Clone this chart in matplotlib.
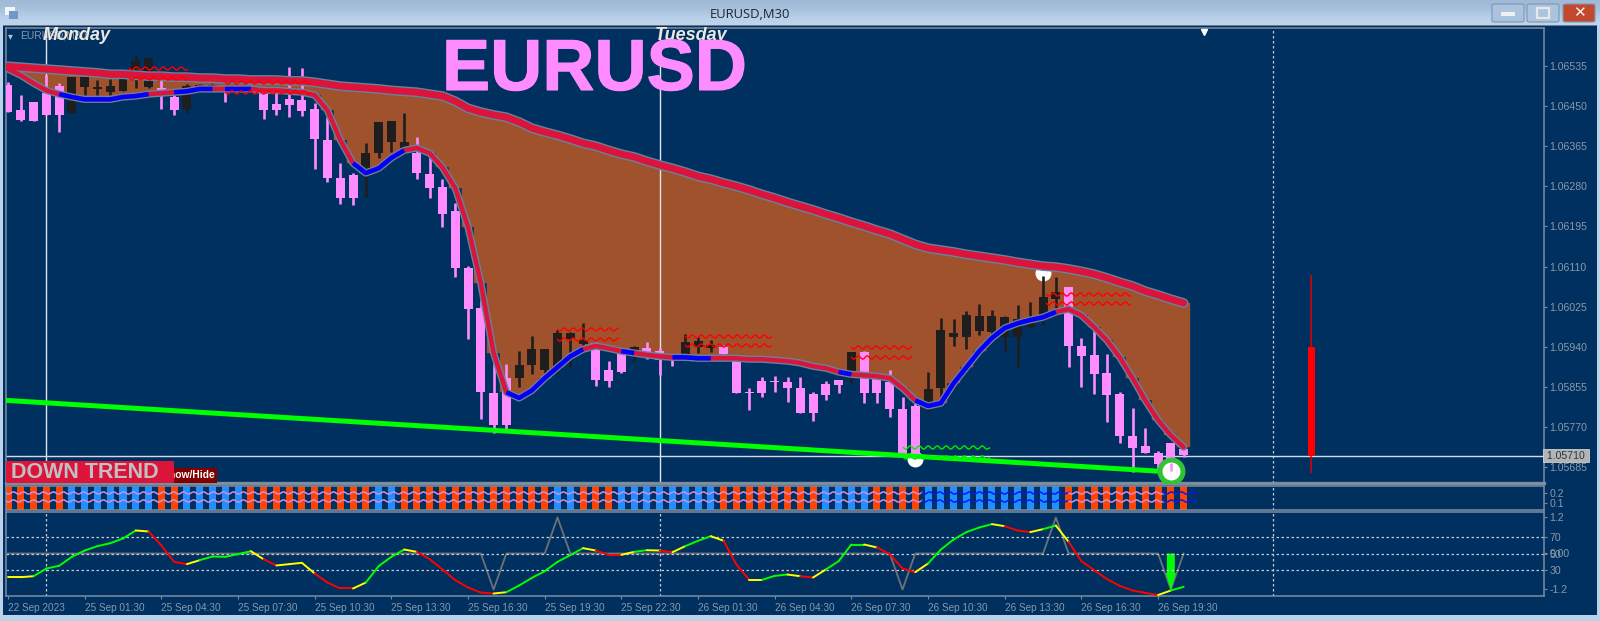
import matplotlib
matplotlib.use("Agg")
import matplotlib.pyplot as plt
import matplotlib.patheffects as pe
from matplotlib.patches import Rectangle, FancyBboxPatch

W, H = 1600, 621
plt.rcParams['font.family'] = ['Liberation Sans', 'DejaVu Sans']

# prices are kept in points (1 point = 0.00001)
candle_high = [106500, 106473, 106458, 106515, 106498, 106511, 106511, 106505, 106507, 106507,
               106558, 106551, 106505, 106473, 106496, 106496, 106496, 106488, 106492, 106492,
               106477, 106477, 106532, 106530, 106456, 106426, 106329, 106308, 106371, 106416,
               106418, 106435, 106384, 106342, 106295, 106244, 106111, 106039, 105906, 105904,
               105931, 105963, 105935, 105975, 105971, 105990, 105950, 105910, 105929, 105942,
               105950, 105937, 105923, 105967, 105961, 105954, 105944, 105918, 105853, 105876,
               105878, 105876, 105876, 105844, 105868, 105870, 105929, 105931, 105878, 105891,
               105834, 105821, 105887, 106001, 105999, 106016, 106031, 106018, 106005, 106028,
               106035, 106090, 106088, 106067, 105959, 105975, 105925, 105844, 105810, 105768,
               105719, 105736, 105734]
candle_low = [106437, 106418, 106418, 106431, 106395, 106435, 106473, 106473, 106473, 106481,
              106488, 106488, 106443, 106431, 106435, 106486, 106488, 106458, 106481, 106479,
              106422, 106431, 106426, 106428, 106316, 106289, 106242, 106240, 106257, 106340,
              106352, 106356, 106295, 106255, 106194, 106088, 105956, 105787, 105757, 105762,
              105855, 105882, 105884, 105884, 105897, 105942, 105857, 105855, 105884, 105910,
              105914, 105880, 105899, 105923, 105927, 105929, 105925, 105842, 105806, 105834,
              105844, 105823, 105800, 105783, 105827, 105842, 105863, 105821, 105821, 105791,
              105709, 105703, 105802, 105834, 105942, 105935, 105965, 105963, 105931, 105897,
              105980, 105986, 106014, 105897, 105855, 105840, 105781, 105736, 105675, 105715,
              105681, 105673, 105707]
candle_open = [106494, 106441, 106458, 106477, 106492, 106435, 106490, 106486, 106479, 106481,
               106526, 106490, 106488, 106469, 106443, 106488, 106490, 106488, 106483, 106483,
               106477, 106454, 106464, 106462, 106443, 106378, 106297, 106304, 106318, 106350,
               106373, 106361, 106350, 106306, 106278, 106227, 106107, 106022, 105842, 105874,
               105874, 105901, 105891, 105891, 105956, 105946, 105948, 105891, 105929, 105933,
               105937, 105931, 105923, 105923, 105940, 105937, 105940, 105914, 105844, 105868,
               105868, 105866, 105853, 105840, 105861, 105870, 105874, 105929, 105874, 105866,
               105808, 105815, 105823, 105853, 105961, 105961, 105973, 105971, 105961, 105961,
               105982, 106007, 106041, 106067, 105942, 105923, 105884, 105840, 105751, 105730,
               105715, 105736, 105724]
candle_close = [106437, 106420, 106418, 106431, 106431, 106511, 106511, 106490, 106492, 106507,
                106545, 106551, 106483, 106441, 106492, 106494, 106494, 106479, 106488, 106488,
                106441, 106441, 106452, 106439, 106380, 106297, 106255, 106255, 106350, 106416,
                106418, 106373, 106308, 106276, 106221, 106107, 106020, 105844, 105774, 105774,
                105901, 105935, 105935, 105969, 105969, 105954, 105870, 105868, 105887, 105940,
                105929, 105912, 105916, 105950, 105952, 105944, 105925, 105842, 105842, 105842,
                105866, 105853, 105800, 105800, 105838, 105859, 105929, 105842, 105842, 105808,
                105711, 105707, 105851, 105975, 105969, 106007, 106005, 106005, 106003, 105999,
                105997, 106045, 106056, 105942, 105920, 105882, 105838, 105751, 105726, 105715,
                105692, 105694, 105711]

slow_ma = [106534, 106532, 106530, 106528, 106526, 106524, 106522, 106520, 106517, 106517,
           106515, 106513, 106513, 106511, 106511, 106509, 106509, 106507, 106507, 106505,
           106505, 106505, 106503, 106503, 106500, 106496, 106492, 106490, 106488, 106486,
           106483, 106481, 106479, 106475, 106471, 106460, 106445, 106437, 106431, 106426,
           106416, 106403, 106395, 106388, 106380, 106371, 106365, 106356, 106348, 106342,
           106333, 106325, 106318, 106310, 106301, 106295, 106287, 106280, 106272, 106263,
           106255, 106246, 106238, 106230, 106221, 106213, 106204, 106196, 106187, 106179,
           106168, 106157, 106149, 106145, 106141, 106136, 106132, 106128, 106124, 106119,
           106115, 106111, 106109, 106105, 106100, 106094, 106086, 106077, 106069, 106058,
           106050, 106041, 106033]
fast_ma = [106528, 106515, 106498, 106483, 106475, 106469, 106464, 106464, 106464, 106469,
           106471, 106475, 106477, 106479, 106481, 106486, 106486, 106486, 106486, 106486,
           106483, 106483, 106481, 106479, 106473, 106441, 106378, 106329, 106308, 106318,
           106340, 106356, 106361, 106350, 106320, 106276, 106194, 106075, 105927, 105844,
           105832, 105848, 105874, 105897, 105920, 105935, 105942, 105937, 105931, 105927,
           105923, 105920, 105918, 105918, 105916, 105916, 105916, 105916, 105914, 105914,
           105912, 105910, 105906, 105899, 105895, 105887, 105882, 105880, 105878, 105874,
           105853, 105827, 105815, 105821, 105863, 105897, 105931, 105959, 105980, 105990,
           105997, 106003, 106014, 106020, 106007, 105982, 105954, 105918, 105874, 105827,
           105785, 105753, 105728]
fast_blue_spans = [(4, 11), (13, 16), (17, 19), (27, 31), (39, 45), (48, 49), (52, 55), (65, 66), (71, 82)]

trend_x = [-0.2, 90]
trend_y = [105827, 105677]

red_candle_x = 102
red_candle = [106092, 105940, 105709, 105673]  # high, open, close, low
last_price = 105710

zigzag_red = [(9.5, 14.0, 106530, 106509), (17.0, 23.6, 106500, 106479), (43.0, 47.7, 105978, 105957),
              (53.0, 59.7, 105963, 105944), (66.0, 70.7, 105940, 105918), (81.2, 87.8, 106053, 106033)]
zigzag_green = [(70.0, 76.8, 105728, 105707)]

white_dot_x = [81.0, 71.0]
white_dot_y = [106096, 105703]
ring_x = 91
ring_y = 105677

day_lines = [3, 51]
future_line = 99

price_ticks = [106535, 106450, 106365, 106280, 106195, 106110, 106025, 105940, 105855, 105770, 105685]

bar_runs = [('o', 5), ('b', 7), ('o', 2), ('b', 5), ('o', 10), ('b', 2), ('o', 12), ('b', 2), ('o', 3),
            ('b', 8), ('o', 8), ('b', 4), ('o', 4), ('b', 11), ('o', 10)]
wave_levels = [0.2, 0.125]
wave_spans = [(-0.15, 71.5, '#d58ae6'), (71.5, 83.0, '#0a18f0'), (83.0, 90.5, '#d58ae6'), (90.5, 93.0, '#0a18f0')]

rsi = [21.3, 21.3, 22.5, 31.8, 35.1, 46.0, 53.6, 58.9, 62.5, 68.2,
       77.9, 76.7, 59.7, 39.9, 37.1, 41.9, 46.4, 46.0, 49.2, 52.8,
       43.1, 35.5, 37.1, 38.7, 25.8, 14.8, 7.6, 7.6, 14.8, 34.6,
       46.0, 54.8, 52.0, 43.1, 30.6, 17.7, 8.8, 2.7, 1.5, 3.1,
       11.2, 20.5, 28.6, 39.9, 48.0, 56.5, 53.6, 48.4, 48.4, 52.0,
       54.0, 53.6, 51.6, 58.9, 65.4, 71.0, 65.4, 36.7, 18.1, 18.1,
       22.9, 24.5, 22.5, 20.9, 30.6, 40.7, 60.9, 60.9, 57.3, 49.2,
       31.8, 27.4, 37.9, 54.8, 67.0, 75.9, 81.5, 85.6, 83.1, 77.9,
       75.9, 79.5, 83.9, 64.1, 40.7, 29.8, 18.9, 10.8, 5.2, 2.3,
       -0.3, 5.2, 9.6]
rsi_runs = [('y', 2), ('g', 8), ('y', 1), ('r', 3), ('y', 1), ('g', 4), ('y', 1), ('r', 1), ('y', 3), ('r', 3),
            ('y', 1), ('g', 3), ('y', 1), ('r', 6), ('y', 1), ('g', 6), ('y', 1), ('r', 2), ('y', 1), ('g', 1),
            ('y', 1), ('r', 1), ('y', 1), ('g', 2), ('y', 1), ('r', 2), ('y', 1), ('g', 2), ('y', 1), ('r', 1),
            ('y', 1), ('g', 3), ('y', 1), ('r', 3), ('y', 1), ('g', 5), ('y', 1), ('r', 2), ('y', 1), ('g', 1),
            ('y', 1), ('r', 7), ('y', 1), ('g', 1)]
momentum_x = [0, 37, 38, 39, 42, 43, 44, 69, 70, 71, 81, 82, 83, 90, 91, 92]
momentum_y = [0, 0, -1.2, 0, 0, 1.2, 0, 0, -1.2, 0, 0, 1.2, 0, 0, -1.2, 0]
signal_x = 91

time_ticks = [0, 6, 12, 18, 24, 30, 36, 42, 48, 54, 60, 66, 72, 78, 84, 90]
time_labels = ['22 Sep 2023', '25 Sep 01:30', '25 Sep 04:30', '25 Sep 07:30', '25 Sep 10:30', '25 Sep 13:30',
               '25 Sep 16:30', '25 Sep 19:30', '25 Sep 22:30', '26 Sep 01:30', '26 Sep 04:30', '26 Sep 07:30',
               '26 Sep 10:30', '26 Sep 13:30', '26 Sep 16:30', '26 Sep 19:30']

NAVY = '#003060'
FRAME = '#7d8da0'
LABEL = '#8a98aa'
DOT = '#c3ccd6'
PINK = '#ff8cff'
BLACK = '#1e1e1e'
CRIMSON = '#dc143c'
OUTLINE = '#64849e'
palette = {'g': '#00ff00', 'y': '#ffff00', 'r': '#ff0000', 'o': '#ff4500', 'b': '#1e90ff'}


def px_axes(left, top, right, bottom):
    a = fig.add_axes([left / W, 1 - bottom / H, (right - left) / W, (bottom - top) / H])
    a.set_zorder(2)
    return a


def box(left, top, right, bottom, color, z=1, **kw):
    fig.add_artist(Rectangle((left / W, 1 - bottom / H), (right - left) / W, (bottom - top) / H,
                             transform=fig.transFigure, facecolor=color, edgecolor='none', zorder=z, **kw))


def style(ax):
    ax.set_facecolor(NAVY)
    ax.set_xlim(-0.157, 120.2)
    for s in ax.spines.values():
        s.set_color(FRAME)
        s.set_linewidth(1.1)
    ax.yaxis.tick_right()
    ax.tick_params(axis='y', colors=FRAME, labelcolor=LABEL, length=2, width=0.8, labelsize=7.6, pad=2)
    ax.set_xticks([])


fig = plt.figure(figsize=(W / 100, H / 100), dpi=100, facecolor='#bcd2ea')

# window title bar, drawn as a vertical gradient
title_ax = fig.add_axes([0, 1 - 26 / H, 1, 26 / H])
title_ax.imshow([[0.0], [1.0]], aspect='auto', interpolation='bicubic', extent=(0, W, 26, 0),
                cmap=matplotlib.colors.LinearSegmentedColormap.from_list('t', ['#9fb9d6', '#bfd6ee']))
title_ax.set_axis_off()
title_ax.set_zorder(0)
box(3, 25, 1597, 615, NAVY)
box(3, 25, 1597, 26, '#6b7b8b', z=1.5)
fig.text(750 / W, 1 - 14 / H, 'EURUSD,M30', color='#1c2630', fontsize=9.4, ha='center', va='center',
         family=['Open Sans', 'DejaVu Sans'], zorder=5)

# small window icon and the three caption buttons
box(5, 7, 15, 15, '#ffffff', z=3, alpha=0.85)
box(9, 11, 18, 19, '#6f97c8', z=3)
for left, right, color in [(1492, 1524, '#aac3de'), (1527, 1559, '#aac3de'), (1563, 1595, '#c2482e')]:
    fig.add_artist(FancyBboxPatch((left / W, 1 - 22 / H), (right - left) / W, 18 / H,
                                  boxstyle='round,pad=0,rounding_size=0.002', transform=fig.transFigure,
                                  facecolor=color, edgecolor='#8097b3', linewidth=0.8, zorder=3))
box(1501, 12, 1515, 16, '#f0f0f0', z=4)
fig.add_artist(Rectangle((1537 / W, 1 - 18 / H), 12 / W, 10 / H, transform=fig.transFigure, facecolor='none',
                         edgecolor='#e8e8e8', linewidth=1.6, zorder=4))
fig.text(1579 / W, 1 - 13 / H, '\u2715', color='#f5f5f5', fontsize=11, ha='center', va='center',
         family='DejaVu Sans', fontweight='bold', zorder=5)

# main price panel
ax = px_axes(6, 28, 1544, 483)
style(ax)
ax.spines['bottom'].set_linewidth(2.4)
ax.set_ylim(105652, 106615)
ax.set_yticks(price_ticks)
ax.set_yticklabels([f'{p / 100000:.5f}' for p in price_ticks])

idx = list(range(len(candle_open)))
ax.bar(idx, [s - f for s, f in zip(slow_ma, fast_ma)], bottom=fast_ma, width=1.0, color='#a0522d',
       edgecolor='#a0522d', linewidth=0.3, zorder=1)

for d in day_lines:
    ax.axvline(d, color='#dfe5ea', linewidth=1.0, zorder=2)
ax.axvline(future_line, color=DOT, linewidth=0.9, linestyle=(0, (2, 2)), zorder=2)
ax.axhline(last_price, color='#d5dce6', linewidth=1.0, zorder=2)

ax.plot(white_dot_x, white_dot_y, linestyle='none', marker='o', markersize=11.5, color='white',
        markeredgecolor='none', zorder=2.5)

candle_colors = [PINK if c < o else BLACK for o, c in zip(candle_open, candle_close)]
ax.vlines(idx, candle_low, candle_high, colors=candle_colors, linewidth=1.9, zorder=3)
ax.bar(idx, [abs(o - c) for o, c in zip(candle_open, candle_close)],
       bottom=[min(o, c) for o, c in zip(candle_open, candle_close)], width=0.7, color=candle_colors, zorder=3)

ax.vlines(red_candle_x, red_candle[3], red_candle[0], colors='#e00000', linewidth=1.1, zorder=3)
ax.bar(red_candle_x, red_candle[1] - red_candle[2], bottom=red_candle[2], width=0.55, color='#ff0000', zorder=3)

# moving averages with their grey outline
ax.plot(idx, slow_ma, color=OUTLINE, linewidth=7.0, zorder=4, solid_capstyle='round')
ax.plot(idx, slow_ma, color=CRIMSON, linewidth=5.0, zorder=4.1, solid_capstyle='round')
ax.plot(idx, fast_ma, color=OUTLINE, linewidth=5.2, zorder=4, solid_capstyle='round')
ax.plot(idx, fast_ma, color=CRIMSON, linewidth=3.2, zorder=4.1, solid_capstyle='round')
for a, b in fast_blue_spans:
    ax.plot(idx[a:b + 1], fast_ma[a:b + 1], color='#0000ff', linewidth=3.2, zorder=4.2, solid_capstyle='butt')

ax.plot(trend_x, trend_y, color='#00ff00', linewidth=3.6, zorder=5)

for zz, col in [(zigzag_red, '#ff0000'), (zigzag_green, '#00ee00')]:
    for x0, x1, y0, y1 in zz:
        for level in (y0, y1):
            line, = ax.plot([x0, x1], [level, level], color=col, linewidth=1.0, zorder=6)
            line.set_sketch_params(scale=1.6, length=9, randomness=1)

ax.plot(ring_x, ring_y, marker='o', markersize=16.5, color='white', markeredgecolor='#33c233',
        markeredgewidth=3.6, linestyle='none', zorder=6)
ax.vlines(ring_x, ring_y, candle_close[ring_x], colors=PINK, linewidth=1.9, zorder=6.1)

ax.plot([93.6], [0.992], marker='v', color='white', markersize=4.5, linestyle='none',
        transform=ax.get_xaxis_transform(), clip_on=False, zorder=6)
ax.text(1.0, last_price, f' {last_price / 100000:.5f} ', transform=ax.get_yaxis_transform(), color='#2c3440',
        fontsize=7.6, va='center', ha='left', zorder=7,
        bbox=dict(boxstyle='square,pad=0.12', facecolor='#b4b4b4', edgecolor='#e0e0e0', linewidth=0.5))

# colour strip panel
ax2 = px_axes(6, 486, 1544, 510)
style(ax2)
ax2.set_ylim(0.03, 0.27)
ax2.set_yticks([0.2, 0.1])
ax2.set_yticklabels(['0.2', '0.1'])
bar_keys = [k for k, n in bar_runs for _ in range(n)]
ax2.bar(idx, [0.24] * len(idx), bottom=0.03, width=0.55, color=[palette[k] for k in bar_keys], zorder=2)
ax2.axvline(future_line, color=DOT, linewidth=0.9, linestyle=(0, (2, 2)), zorder=1)
for level in wave_levels:
    for x0, x1, col in wave_spans:
        line, = ax2.plot([x0, x1], [level, level], color=col, linewidth=1.1, zorder=3)
        line.set_sketch_params(scale=1.1, length=10, randomness=1)

# oscillator panel
ax3 = px_axes(6, 512, 1544, 596)
style(ax3)
ax3.set_ylim(-1.5, 100.3)
ax3.set_yticks([70, 50, 30])
ax3.set_yticklabels(['70', '50', '30'])
ax3.set_xticks(time_ticks)
ax3.set_xticklabels(time_labels, ha='left')
ax3.tick_params(axis='x', colors=FRAME, labelcolor=LABEL, length=2.5, width=0.8, labelsize=7.2, pad=2.5)

mom = ax3.twinx()
ax3.yaxis.tick_right()
mom.set_ylim(-1.417, 1.383)
mom.set_yticks([1.2, 0, -1.2])
mom.set_yticklabels(['1.2', '0.00', '-1.2'])
mom.tick_params(axis='y', colors=FRAME, labelcolor=LABEL, length=2, width=0.8, labelsize=7.6, pad=2)
for s in mom.spines.values():
    s.set_visible(False)
mom.set_facecolor(NAVY)

for level in (70, 50, 30):
    ax3.axhline(level, color=DOT, linewidth=0.9, linestyle=(0, (2, 2)), zorder=2)
for v in day_lines + [future_line]:
    ax3.axvline(v, color=DOT, linewidth=0.9, linestyle=(0, (2, 2)), zorder=2)

mom.plot(momentum_x, momentum_y, color='#6d7278', linewidth=1.3, zorder=2)
mom.arrow(signal_x, 0, 0, -1.23, width=0.62, head_width=0.8, head_length=0.58, length_includes_head=True,
          color='#00ff00', linewidth=0, zorder=3)

rsi_keys = [k for k, n in rsi_runs for _ in range(n)]
for i, k in enumerate(rsi_keys):
    ax3.plot([i, i + 1], [rsi[i], rsi[i + 1]], color=palette[k], linewidth=1.4, solid_capstyle='round', zorder=4)
ax3.set_zorder(3)
mom.set_zorder(2)
ax3.patch.set_visible(False)

# chart labels and on-chart objects
fig.text(20 / W, 1 - 36 / H, 'EURUSD,M30', color=LABEL, fontsize=7.4, va='center', zorder=5)
fig.text(8 / W, 1 - 36 / H, '\u25be', color='#b8c2cc', fontsize=7, va='center', family='DejaVu Sans', zorder=5)
fig.text(43 / W, 1 - 36 / H, 'Monday', color='#ece8e0', fontsize=13, fontweight='bold', fontstyle='italic',
         va='center', zorder=6)
fig.text(655 / W, 1 - 36 / H, 'Tuesday', color='#ece8e0', fontsize=13, fontweight='bold', fontstyle='italic',
         va='center', zorder=6)
title_text = fig.text(442 / W, 1 - 90 / H, 'EURUSD', color=PINK, fontsize=52, fontweight='bold', va='baseline', zorder=7)
title_text.set_path_effects([pe.withStroke(linewidth=0.8, foreground=PINK)])

box(165, 468, 217, 483, '#800000', z=6)
fig.text(215 / W, 1 - 475.5 / H, 'Show/Hide', color='white', fontsize=7.4, fontweight='bold', ha='right',
         va='center', zorder=7)
box(6, 461, 174, 483, CRIMSON, z=8)
fig.text(11 / W, 1 - 472 / H, 'DOWN TREND', color='#c0c0c0', fontsize=15.5, fontweight='bold', va='center', zorder=9)

fig.savefig('out.png', dpi=100, facecolor=fig.get_facecolor())
